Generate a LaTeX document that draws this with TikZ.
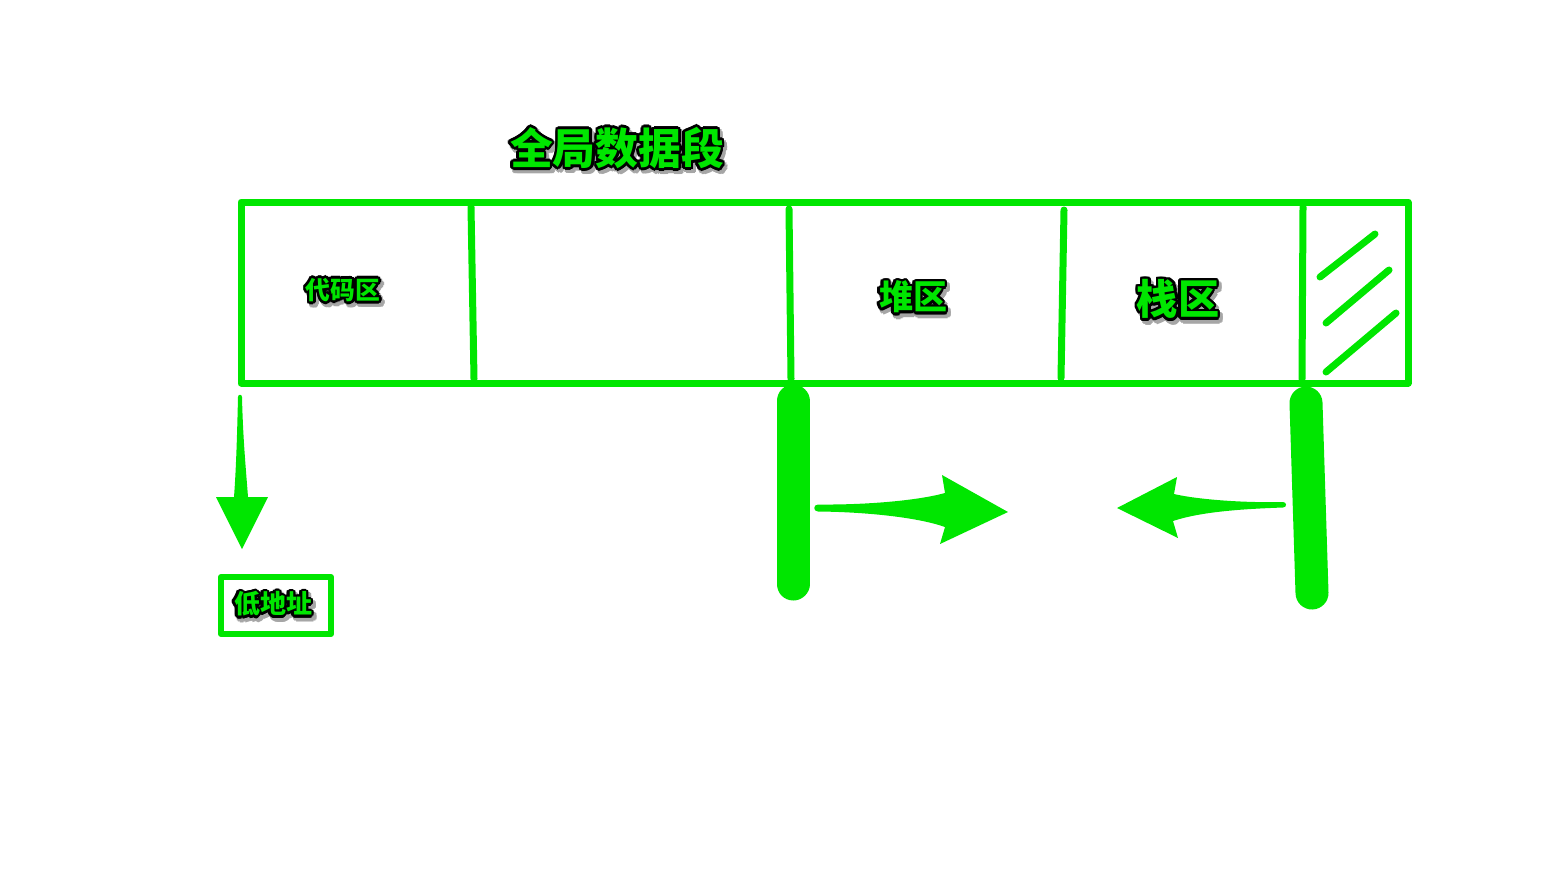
\documentclass[tikz,border=0pt]{standalone}
\usepackage{fontspec}
\newfontfamily\cjk{Noto Sans CJK SC}
\definecolor{gr}{RGB}{0,230,0}
\tikzset{
  frame/.style={draw=gr,line width=3.5pt,line join=round,line cap=round},
  hatch/.style={draw=gr,line width=3.5pt,line cap=round},
  bar/.style={draw=gr,line width=16.5pt,line cap=round},
  arrowfill/.style={fill=gr,draw=none},
  txt/.style={inner sep=0pt}
}
\newcommand{\glowtext}[5]{%
  \foreach \a in {0,30,...,330}{%
    \node[txt,text=black!35,font=\cjk\bfseries\fontsize{#4}{#4}\selectfont] at ([shift={(\a:1.6pt)},xshift=1.2pt,yshift=-1.6pt]#2,#3) {#5};}
  \foreach \a in {0,22.5,...,337.5}{%
    \node[txt,text=black,font=\cjk\bfseries\fontsize{#4}{#4}\selectfont] at ([shift={(\a:1.3pt)}]#2,#3) {#5};}
  \node[txt,text=gr,font=\cjk\bfseries\fontsize{#4}{#4}\selectfont] (#1) at (#2,#3) {#5};
}
\begin{document}
\begin{tikzpicture}[x=0.5pt,y=-0.5pt]
\useasboundingbox (0,0) rectangle (1568,890);
% main frame
\coordinate (tl) at (241,202);
\coordinate (br) at (1408,383);
\draw[frame] (tl) rectangle (br);
% dividers
\coordinate (d1a) at (471,207); \coordinate (d1b) at (474,379);
\coordinate (d2a) at (789,209); \coordinate (d2b) at (791,379);
\coordinate (d3a) at (1064,210); \coordinate (d3b) at (1061,378);
\coordinate (d4a) at (1303,207); \coordinate (d4b) at (1302,379);
\draw[frame] (d1a) -- (d1b);
\draw[frame] (d2a) -- (d2b);
\draw[frame] (d3a) -- (d3b);
\draw[frame] (d4a) -- (d4b);
% hatching
\coordinate (h1a) at (1320,277); \coordinate (h1b) at (1375,234);
\coordinate (h2a) at (1326,323); \coordinate (h2b) at (1389,270);
\coordinate (h3a) at (1326,372); \coordinate (h3b) at (1396,313);
\draw[hatch] (h1a) -- (h1b);
\draw[hatch] (h2a) -- (h2b);
\draw[hatch] (h3a) -- (h3b);
% thick bars
\coordinate (b1a) at (793,401); \coordinate (b1b) at (793,584);
\coordinate (b2a) at (1306,403); \coordinate (b2b) at (1312,593);
\draw[bar] (b1a) -- (b1b);
\draw[bar] (b2a) -- (b2b);
% right arrow
\fill[arrowfill] (818,504.5) .. controls (870,505) and (920,500) .. (945,493)
  -- (942,475) -- (1008,512) -- (940,544) -- (945,527)
  .. controls (920,518) and (870,512) .. (818,511.5)
  .. controls (813,511.5) and (813,504.5) .. (818,504.5) -- cycle;
% left arrow
\fill[arrowfill] (1283,502) .. controls (1240,503) and (1195,499) .. (1174,494)
  -- (1177,477) -- (1117,508) -- (1178,538) -- (1173,521)
  .. controls (1200,512) and (1240,509) .. (1283,507.5)
  .. controls (1287,507.5) and (1287,502) .. (1283,502) -- cycle;
% down arrow
\fill[arrowfill] (238,397) .. controls (238,394) and (242,394) .. (242,397)
  .. controls (243,440) and (246,470) .. (248,497)
  -- (268,497) -- (242,549) -- (216,497) -- (234,497)
  .. controls (236,470) and (237,440) .. (238,397) -- cycle;
% low address box
\coordinate (la) at (221,577); \coordinate (lb) at (331,634);
\draw[frame,line width=3pt] (la) rectangle (lb);
% texts
\glowtext{title}{617}{148}{21.4pt}{全局数据段}
\glowtext{code}{343}{290}{12.4pt}{代码区}
\glowtext{heap}{913}{297}{17pt}{堆区}
\glowtext{stack}{1178}{299}{20.6pt}{栈区}
\glowtext{low}{273}{604}{13pt}{低地址}
\end{tikzpicture}
\end{document}
